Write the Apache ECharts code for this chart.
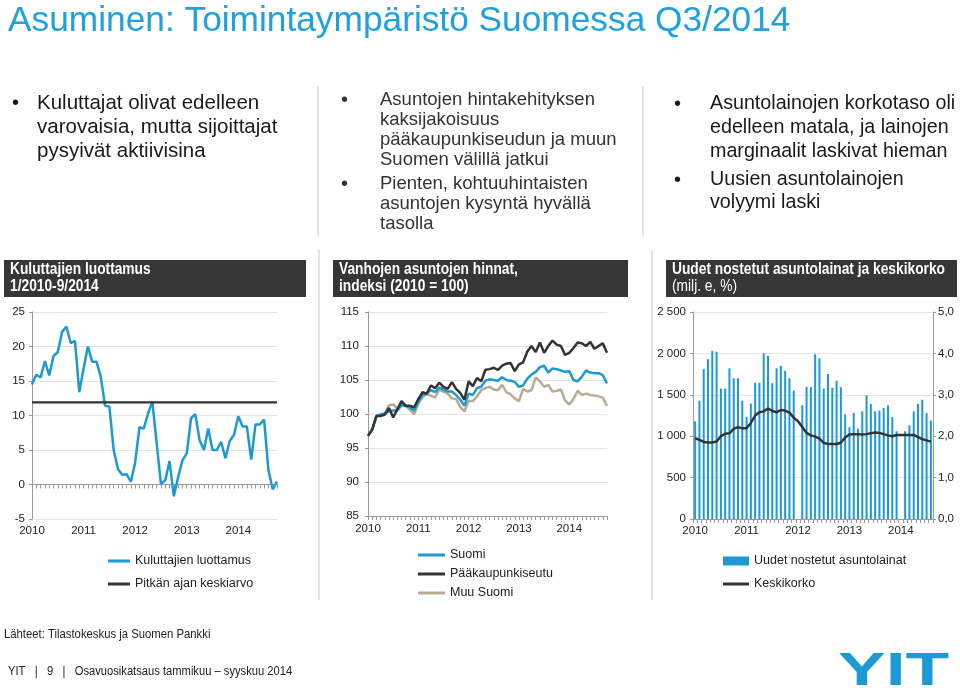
<!DOCTYPE html>
<html><head><meta charset="utf-8">
<script src="https://cdn.jsdelivr.net/npm/echarts@6.0.0/dist/echarts.min.js"></script>
<style>html,body{margin:0;padding:0;background:#fff}#c{width:960px;height:688px}</style>
</head><body><div id="c"></div>
<script>
// ---- data ----
const startYear = 2010;
const confidence = [
  14.5, 15.9, 15.5, 17.9, 15.8, 18.6, 19.2, 22.1, 22.9, 20.5, 20.8, 13.4,
  16.8, 20.0, 17.8, 17.8, 15.6, 11.4, 11.3, 5.0, 2.2, 1.4, 1.5, 0.4,
  3.2, 8.3, 8.1, 10.3, 12.0, 6.0, 0.1, 0.6, 3.4, -1.7, 1.1, 3.5,
  4.5, 9.6, 10.2, 6.4, 5.0, 8.1, 5.0, 5.0, 6.2, 3.8, 6.3, 7.2,
  9.9, 8.4, 8.4, 3.6, 8.7, 8.7, 9.4, 2.1, -0.7, 0.4
];
const longTermAvg = 11.9;
const priceSuomi = [
  96.8, 97.7, 99.7, 99.9, 100.1, 100.4, 100.5, 100.5, 101.3, 101.2,
  101.0, 100.5, 101.8, 102.8, 103.0, 103.5, 103.2, 103.9, 103.6, 103.3,
  103.3, 102.8, 102.1, 101.2, 103.0, 102.8, 103.8, 104.0, 104.9, 105.1,
  105.0, 104.9, 105.4, 105.0, 104.9, 104.7, 104.0, 104.2, 105.2, 105.8,
  106.2, 106.9, 107.1, 106.1, 106.7, 106.6, 106.4, 106.2, 106.3, 105.0,
  104.8, 105.5, 106.4, 106.1, 106.0, 106.0, 105.7, 104.5
];
const priceCapital = [
  96.8, 97.7, 99.7, 99.7, 99.9, 100.9, 99.5, 100.7, 101.9, 101.2,
  101.2, 101.0, 102.2, 103.2, 103.0, 104.2, 103.8, 104.6, 104.0, 103.7,
  104.7, 103.7, 103.1, 102.1, 104.8, 104.1, 105.3, 104.8, 106.5, 106.6,
  106.8, 106.5, 107.1, 107.4, 107.5, 106.3, 107.3, 107.6, 109.2, 110.0,
  109.1, 110.5, 109.0, 110.0, 110.8, 110.2, 110.0, 108.7, 109.0, 109.7,
  110.5, 110.4, 110.0, 110.6, 109.6, 110.0, 110.4, 109.0
];
const priceOther = [
  96.8, 97.7, 99.7, 100.0, 100.0, 101.3, 101.4, 100.8, 101.3, 101.2,
  100.6, 100.0, 101.5, 102.5, 102.9, 102.7, 102.4, 103.6, 103.3, 103.0,
  102.3, 102.2, 101.0, 100.4, 101.9, 101.9, 102.6, 103.5, 103.8, 104.0,
  103.6, 103.5, 104.3, 103.2, 102.9, 102.3, 101.9, 103.7, 103.3, 103.5,
  105.4, 104.8, 104.0, 104.3, 103.3, 103.4, 103.6, 102.0, 101.4, 102.2,
  103.4, 102.8, 103.0, 102.8, 102.7, 102.6, 102.4, 101.2
];
const loans = [
  1180, 1430, 1810, 1930, 2030, 2020, 1575, 1575, 1820, 1700, 1700, 1430,
  1235, 1395, 1645, 1645, 2000, 1970, 1640, 1820, 1850, 1790, 1700, 1550,
  null, 1375, 1595, 1595, 1990, 1940, 1575, 1750, 1585, 1670, 1590, 1265,
  1110, 1280, 1090, 1300, 1495, 1390, 1300, 1310, 1340, 1370, 1230, 1060,
  null, 1060, 1130, 1300, 1390, 1440, 1280, 1190
];
const rate = [
  1.95, 1.91, 1.86, 1.85, 1.85, 1.87, 2.00, 2.06, 2.07, 2.18, 2.22, 2.19,
  2.19, 2.32, 2.50, 2.58, 2.60, 2.67, 2.61, 2.58, 2.63, 2.62, 2.57, 2.45,
  2.36, 2.22, 2.08, 2.02, 1.99, 1.94, 1.84, 1.81, 1.81, 1.81, 1.84, 1.97,
  2.04, 2.05, 2.05, 2.04, 2.05, 2.07, 2.09, 2.08, 2.05, 2.02, 2.00, 2.03,
  2.03, 2.03, 2.03, 2.03, 1.98, 1.93, 1.90, 1.87
];

// ---- helpers ----
function monthCats(n) {
  const out = [];
  for (let i = 0; i < n; i++) out.push((startYear + Math.floor(i / 12)) + '-' + String(i % 12 + 1).padStart(2, '0'));
  return out;
}
const cats1 = monthCats(confidence.length);
const cats2 = monthCats(priceSuomi.length);
const cats3 = monthCats(loans.length);

const BLUE = '#1b9ad6', DARK = '#333333', TAN = '#b9ab92', GRIDC = '#e4e4e4', AXISC = '#9a9a9a';
const ARIAL = '"Liberation Sans",Arial,Helvetica,sans-serif';
const isJan = (i, v) => String(v).endsWith('-01');
const yearFmt = v => String(v).slice(0, 4);
const lblStyle = { fontFamily: ARIAL, fontSize: 11.5, color: '#222' };

const chart = echarts.init(document.getElementById('c'), null, { renderer: 'canvas' });

function txt(x, y, s, font, fill, sx) {
  return { type: 'text', x: x, y: y, scaleX: sx || 1, silent: true,
    style: { text: s, x: 0, y: 0, font: font, fill: fill || '#1a1a1a', align: 'left', verticalAlign: 'middle' } };
}
const g = [];
g.push(txt(8, 21, 'Asuminen: Toimintaympäristö Suomessa Q3/2014', '35px ' + ARIAL, '#1ea1dc', 1.008));
// bullets
const F1 = '20px ' + ARIAL, F3 = '19.7px ' + ARIAL, F2 = '18.5px ' + ARIAL;
g.push(txt(12, 103, '•', F1));
['Kuluttajat olivat edelleen', 'varovaisia, mutta sijoittajat', 'pysyivät aktiivisina'].forEach((s, i) => g.push(txt(37, 103 + 24 * i, s, '20.5px ' + ARIAL)));
g.push(txt(341, 100, '•', F1, '#333'));
['Asuntojen hintakehityksen', 'kaksijakoisuus', 'pääkaupunkiseudun ja muun', 'Suomen välillä jatkui'].forEach((s, i) => g.push(txt(380, 100 + 20 * i, s, F2, '#333')));
g.push(txt(341, 184, '•', F1, '#333'));
['Pienten, kohtuuhintaisten', 'asuntojen kysyntä hyvällä', 'tasolla'].forEach((s, i) => g.push(txt(380, 184 + 20 * i, s, F2, '#333')));
g.push(txt(674, 104, '•', F1));
['Asuntolainojen korkotaso oli', 'edelleen matala, ja lainojen', 'marginaalit laskivat hieman'].forEach((s, i) => g.push(txt(710, 104 + 24 * i, s, F3)));
g.push(txt(674, 180, '•', F1));
['Uusien asuntolainojen', 'volyymi laski'].forEach((s, i) => g.push(txt(710, 180 + 23 * i, s, F3)));
// separators
[[318, 86, 318, 236], [643, 86, 643, 236], [319, 250, 319, 600], [652, 250, 652, 600]].forEach(p =>
  g.push({ type: 'line', silent: true, shape: { x1: p[0], y1: p[1], x2: p[2], y2: p[3] }, style: { stroke: '#c8c8c8', lineWidth: 1 } }));
// header boxes (condensed look via horizontal scaling)
const HB = 'bold 16px ' + ARIAL, HN = '16px ' + ARIAL, HS = 0.86;
[[4, 302, 'Kuluttajien luottamus', '1/2010-9/2014', HB, HB], [333, 295, 'Vanhojen asuntojen hinnat,', 'indeksi (2010 = 100)', HB, HB], [666, 291, 'Uudet nostetut asuntolainat ja keskikorko', '(milj. e, %)', HB, HN]].forEach(h => {
  g.push({ type: 'rect', silent: true, shape: { x: h[0], y: 260, width: h[1], height: 37 }, style: { fill: '#363636' } });
  g.push(txt(h[0] + 6, 270, h[2], h[4], '#fff', HS));
  g.push(txt(h[0] + 6, 287, h[3], h[5], '#fff', HS));
});
// footer
g.push(txt(4, 634, 'Lähteet: Tilastokeskus ja Suomen Pankki', '13px ' + ARIAL, '#222', 0.87));
g.push(txt(8, 671, 'YIT   |   9   |   Osavuosikatsaus tammikuu – syyskuu 2014', '13px ' + ARIAL, '#222', 0.86));
g.push({ type: 'text', x: 838, y: 672, scaleX: 1.52, silent: true, style: { text: 'YIT', x: 0, y: 0, font: 'bold 47px ' + ARIAL, fill: '#1b9ad6', align: 'left', verticalAlign: 'middle' } });

const legendText = { fontFamily: ARIAL, fontSize: 12.5, color: '#222', lineHeight: 16 };

const option = {
  animation: false,
  backgroundColor: '#fff',
  graphic: g,
  grid: [
    { left: 32, top: 312, width: 245, height: 207 },
    { left: 368, top: 312, width: 239, height: 204 },
    { left: 693, top: 312, width: 240, height: 207 }
  ],
  legend: [
    { data: ['Kuluttajien luottamus', 'Pitkän ajan keskiarvo'], orient: 'vertical', left: 103, top: 548, icon: 'rect', itemWidth: 22, itemHeight: 3, itemGap: 7, selectedMode: false, textStyle: legendText },
    { data: ['Suomi', 'Pääkaupunkiseutu', 'Muu Suomi'], orient: 'vertical', left: 413, top: 542, icon: 'rect', itemWidth: 27, itemHeight: 3, itemGap: 3, selectedMode: false, textStyle: legendText },
    { data: ['Uudet nostetut asuntolainat'], left: 718, top: 548, icon: 'rect', itemWidth: 26, itemHeight: 9, selectedMode: false, textStyle: legendText },
    { data: ['Keskikorko'], left: 718, top: 571, icon: 'rect', itemWidth: 26, itemHeight: 3, selectedMode: false, textStyle: legendText }
  ],
  xAxis: [
    { gridIndex: 0, type: 'category', data: cats1, boundaryGap: false,
      axisLine: { onZero: true, lineStyle: { color: AXISC } },
      axisTick: { show: true, interval: 0, length: 4, lineStyle: { color: AXISC } },
      axisLabel: { show: false }, splitLine: { show: false } },
    { gridIndex: 0, type: 'category', data: cats1, boundaryGap: false, position: 'bottom',
      axisLine: { show: false, onZero: false }, axisTick: { show: false },
      axisLabel: Object.assign({ interval: isJan, formatter: yearFmt, margin: 6 }, lblStyle), splitLine: { show: false } },
    { gridIndex: 1, type: 'category', data: cats2, boundaryGap: false,
      axisLine: { lineStyle: { color: AXISC } },
      axisTick: { show: true, interval: 0, length: 4, lineStyle: { color: AXISC } },
      axisLabel: Object.assign({ interval: isJan, formatter: yearFmt, margin: 7 }, lblStyle), splitLine: { show: false } },
    { gridIndex: 2, type: 'category', data: cats3, boundaryGap: true,
      axisLine: { lineStyle: { color: AXISC } },
      axisTick: { show: true, interval: 0, length: 4, lineStyle: { color: AXISC } },
      axisLabel: Object.assign({ interval: isJan, formatter: yearFmt, margin: 6 }, lblStyle), splitLine: { show: false } }
  ],
  yAxis: [
    { gridIndex: 0, type: 'value', min: -5, max: 25, interval: 5,
      axisLine: { show: true, lineStyle: { color: AXISC } }, axisTick: { show: true, length: 3, lineStyle: { color: AXISC } },
      splitLine: { lineStyle: { color: GRIDC } }, axisLabel: Object.assign({ margin: 7 }, lblStyle) },
    { gridIndex: 1, type: 'value', min: 85, max: 115, interval: 5,
      axisLine: { show: true, lineStyle: { color: AXISC } }, axisTick: { show: true, length: 3, lineStyle: { color: AXISC } },
      splitLine: { lineStyle: { color: GRIDC } }, axisLabel: Object.assign({ margin: 9 }, lblStyle) },
    { gridIndex: 2, type: 'value', min: 0, max: 2500, interval: 500,
      axisLine: { show: true, lineStyle: { color: AXISC } }, axisTick: { show: true, length: 3, lineStyle: { color: AXISC } },
      splitLine: { lineStyle: { color: GRIDC } },
      axisLabel: Object.assign({ margin: 7, formatter: v => v >= 1000 ? Math.floor(v / 1000) + ' ' + String(v % 1000).padStart(3, '0') : String(v) }, lblStyle) },
    { gridIndex: 2, type: 'value', position: 'right', min: 0, max: 5, interval: 1,
      axisLine: { show: true, lineStyle: { color: AXISC } }, axisTick: { show: true, length: 3, lineStyle: { color: AXISC } },
      splitLine: { show: false },
      axisLabel: Object.assign({ margin: 5, formatter: v => v.toFixed(1).replace('.', ',') }, lblStyle) }
  ],
  series: [
    { name: 'Kuluttajien luottamus', type: 'line', xAxisIndex: 0, yAxisIndex: 0, data: confidence, symbol: 'none',
      lineStyle: { color: BLUE, width: 2.5 }, itemStyle: { color: BLUE } },
    { name: 'Pitkän ajan keskiarvo', type: 'line', xAxisIndex: 0, yAxisIndex: 0, symbol: 'none',
      data: [[cats1[0], longTermAvg], [cats1[cats1.length - 1], longTermAvg]],
      lineStyle: { color: DARK, width: 2.2 }, itemStyle: { color: DARK } },
    { name: 'Muu Suomi', type: 'line', xAxisIndex: 2, yAxisIndex: 1, data: priceOther, symbol: 'none',
      lineStyle: { color: TAN, width: 2.5 }, itemStyle: { color: TAN } },
    { name: 'Suomi', type: 'line', xAxisIndex: 2, yAxisIndex: 1, data: priceSuomi, symbol: 'none',
      lineStyle: { color: BLUE, width: 2.5 }, itemStyle: { color: BLUE } },
    { name: 'Pääkaupunkiseutu', type: 'line', xAxisIndex: 2, yAxisIndex: 1, data: priceCapital, symbol: 'none',
      lineStyle: { color: DARK, width: 2.5 }, itemStyle: { color: DARK } },
    { name: 'Uudet nostetut asuntolainat', type: 'bar', xAxisIndex: 3, yAxisIndex: 2, data: loans, barWidth: 2,
      itemStyle: { color: BLUE } },
    { name: 'Keskikorko', type: 'line', xAxisIndex: 3, yAxisIndex: 3, data: rate, symbol: 'none',
      lineStyle: { color: DARK, width: 2.5 }, itemStyle: { color: DARK } }
  ]
};
chart.setOption(option);
</script>
</body></html>
